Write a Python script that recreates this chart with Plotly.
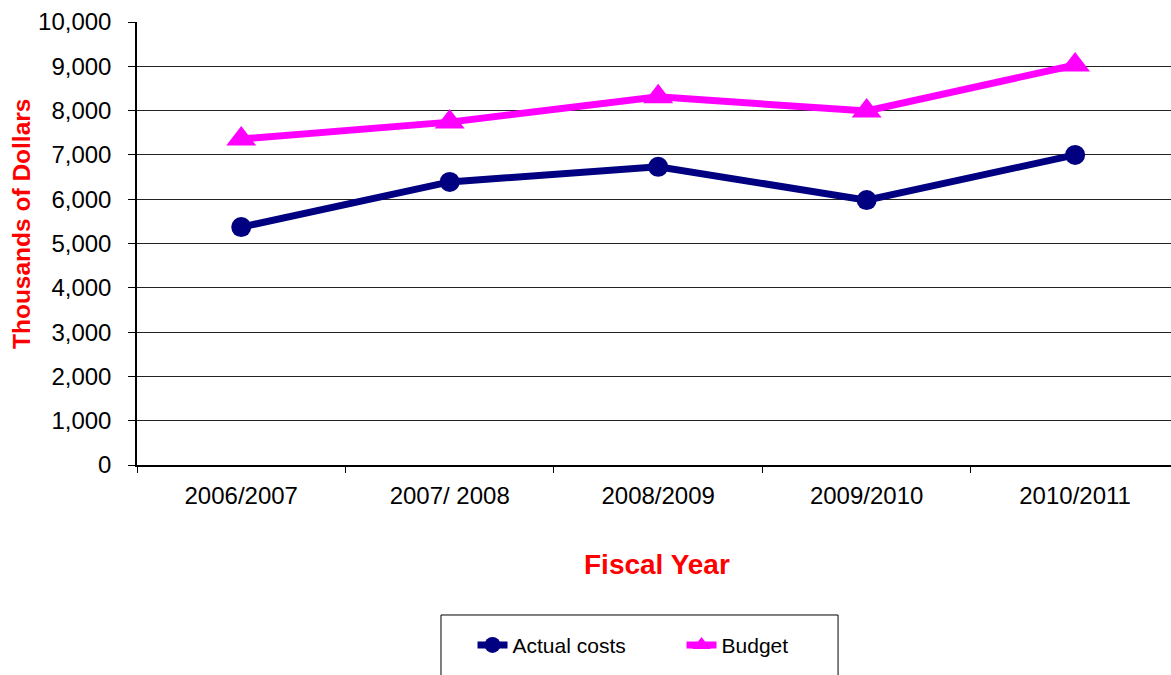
import plotly.graph_objects as go

categories = ["2006/2007", "2007/ 2008", "2008/2009", "2009/2010", "2010/2011"]
actual_costs = [5370, 6390, 6730, 5980, 7000]
budget = [7360, 7740, 8310, 7990, 9030]

FONT = "Liberation Sans, Arial, sans-serif"

fig = go.Figure()
fig.add_trace(go.Scatter(
    x=categories, y=actual_costs, name="Actual costs", mode="lines+markers",
    line=dict(color="#000080", width=7),
    marker=dict(symbol="circle", size=20, color="#000080"),
))
fig.add_trace(go.Scatter(
    x=categories, y=budget, name="Budget", mode="lines+markers",
    line=dict(color="#FF00FF", width=7),
    marker=dict(symbol="triangle-up", size=26, color="#FF00FF"),
))

fig.update_layout(
    width=1171, height=675,
    margin=dict(l=137, r=0, t=22, b=210),
    paper_bgcolor="white", plot_bgcolor="white",
    font=dict(family=FONT, size=22, color="black"),
    showlegend=True,
    legend=dict(
        orientation="h", xref="container", yref="container",
        x=0.582, y=0.044, xanchor="center", yanchor="middle",
        font=dict(family=FONT, size=21, color="black"),
        bgcolor="rgba(0,0,0,0)",
        entrywidth=164, entrywidthmode="pixels",
    ),
    shapes=[dict(
        type="rect", xref="paper", yref="paper",
        x0=0.294, x1=0.678, y0=-0.3386, y1=-0.49,
        line=dict(color="black", width=1), fillcolor="rgba(0,0,0,0)",
    )],
    annotations=[
        dict(text="<b>Fiscal Year</b>", xref="paper", yref="paper",
             x=(657 - 137) / 1034, y=(465 - 564) / 443, xanchor="center", yanchor="middle",
             showarrow=False,
             font=dict(family=FONT, size=28, color="#FF0000")),
        dict(text="<b>Thousands of Dollars</b>", xref="paper", yref="paper",
             x=(21 - 137) / 1034, y=(465 - 224) / 443, xanchor="center", yanchor="middle",
             showarrow=False, textangle=-90,
             font=dict(family=FONT, size=24.5, color="#FF0000")),
    ],
)

fig.update_xaxes(
    type="category", range=[-0.5, 4.46],
    showline=True, linecolor="black", linewidth=1.5,
    ticks="outside", tickson="boundaries", ticklen=6, tickcolor="black",
    ticklabelstandoff=8,
    showgrid=False, zeroline=False,
    tickfont=dict(family=FONT, size=24, color="black"),
)
fig.update_yaxes(
    range=[0, 10000], dtick=1000, tickformat=",",
    showline=True, linecolor="black", linewidth=1.5,
    ticks="outside", ticklen=7, tickcolor="black",
    ticklabelstandoff=12,
    showgrid=True, gridcolor="#222222", gridwidth=1,
    zeroline=False,
    tickfont=dict(family=FONT, size=24, color="black"),
)

fig.write_html("out.html")
